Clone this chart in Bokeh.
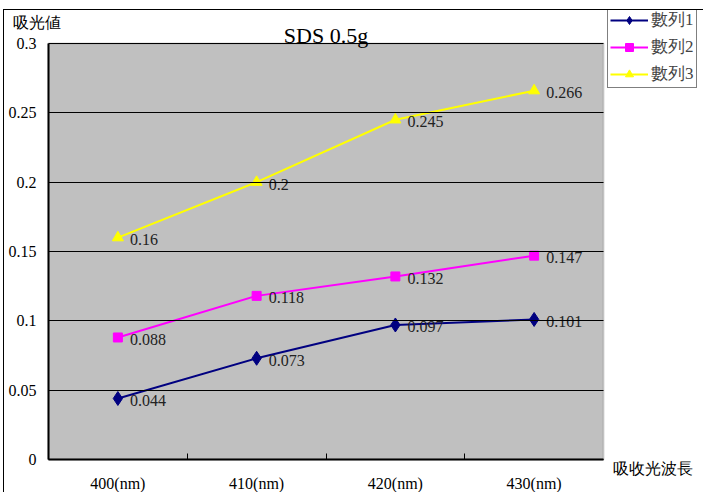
import numpy as np
from bokeh.plotting import figure
from bokeh.models import (Range1d, FixedTicker, Legend, LegendItem, Label, BoxAnnotation)
from bokeh.core.properties import value
from bokeh.embed import file_html
from bokeh.resources import INLINE

categories = ["400(nm)", "410(nm)", "420(nm)", "430(nm)"]
series_names = ["數列1", "數列2", "數列3"]
s1 = [0.044, 0.073, 0.097, 0.101]
s2 = [0.088, 0.118, 0.132, 0.147]
s3 = [0.16, 0.2, 0.245, 0.266]
y_ticks = [0, 0.05, 0.1, 0.15, 0.2, 0.25, 0.3]
y_tick_labels = ["0", "0.05", "0.1", "0.15", "0.2", "0.25", "0.3"]
title_text = "SDS 0.5g"
y_title = "吸光値"
x_title = "吸收光波長"

SERIF = "Liberation Serif"

# layout geometry (pixels inside the figure canvas)
W, H = 700, 483
PL, PR, PT, PB = 44, 599, 33, 449   # plot-area edges

n = len(categories)
ymax = y_ticks[-1]
xc = list(np.arange(n) + 0.5)
bounds = list(np.arange(1, n))

xs = (PR - PL) / n          # px per category
ys = (PB - PT) / ymax       # px per unit
x_range = Range1d(-PL / xs, n + (W - PR) / xs)
y_range = Range1d(-(H - PB) / ys, ymax + PT / ys)

p = figure(width=W, height=H, output_backend="svg", toolbar_location=None,
           x_range=x_range, y_range=y_range, min_border=0)
p.styles = {"margin-left": "3px", "margin-top": "9px",
            "border-left": "1px solid black", "border-top": "1px solid black"}
p.background_fill_color = "white"
p.border_fill_color = "white"
p.outline_line_color = None
p.xgrid.grid_line_color = None
p.ygrid.grid_line_color = None

# gray plot area
p.add_layout(BoxAnnotation(left=0, right=n, bottom=0, top=ymax,
                           fill_color="#C0C0C0", fill_alpha=1.0,
                           line_color="#808080", line_width=2, level="image",
                           editable=False))

# x axis
xa = p.xaxis[0]
xa.fixed_location = 0
xa.bounds = (0, n)
xa.ticker = FixedTicker(ticks=xc, minor_ticks=bounds)
xa.major_label_overrides = {float(x): c for x, c in zip(xc, categories)}
xa.major_tick_in = 0
xa.major_tick_out = 0
xa.minor_tick_in = 6
xa.minor_tick_out = 0
xa.minor_tick_line_color = "black"
xa.axis_line_color = "black"
xa.axis_line_width = 2
xa.major_label_text_font = SERIF
xa.major_label_text_font_size = "16px"
xa.major_label_text_color = "black"
xa.major_label_standoff = 15

# y axis; its inward ticks span the plot area as gridlines
ya = p.yaxis[0]
ya.fixed_location = 0
ya.bounds = (0, ymax)
ya.ticker = FixedTicker(ticks=y_ticks)
ya.major_label_overrides = {float(t): l for t, l in zip(y_ticks, y_tick_labels)}
ya.major_tick_in = PR - PL
ya.major_tick_out = 0
ya.major_tick_line_color = "black"
ya.major_tick_line_width = 1
ya.minor_tick_in = 0
ya.minor_tick_out = 0
ya.axis_line_color = "black"
ya.axis_line_width = 2
ya.major_label_text_font = SERIF
ya.major_label_text_font_size = "16px"
ya.major_label_text_color = "black"
ya.major_label_standoff = 12

colors = ["#000080", "#FF00FF", "#FFFF00"]
markers = ["diamond", "square", "triangle"]
sizes = [14, 9, 11]
items = []
for name, vals, col, mk, sz in zip(series_names, [s1, s2, s3], colors, markers, sizes):
    r1 = p.line(xc, vals, line_color=col, line_width=2)
    r2 = p.scatter(xc, vals, marker=mk, size=sz, fill_color=col, line_color=col)
    p.text(xc, vals, text=[str(v) for v in vals], x_offset=12, y_offset=2,
           text_baseline="middle", text_align="left", text_font=value(SERIF),
           text_font_size="16px", text_color="#222222")
    items.append(LegendItem(label=name, renderers=[r1, r2]))

legend = Legend(items=items, location=(603, 405), margin=0, padding=2, spacing=4,
                glyph_width=38, glyph_height=20, label_height=20, label_standoff=3,
                label_text_font=SERIF, label_text_font_size="17px",
                border_line_color="black", border_line_width=1,
                background_fill_color="white", background_fill_alpha=1.0)
p.add_layout(legend, "center")

p.add_layout(Label(x=n / 2, y=ymax, y_offset=8, text=title_text, text_align="center",
                   text_baseline="alphabetic", text_font=SERIF,
                   text_font_size="22px", text_color="black"))
p.add_layout(Label(x=8, y=471, x_units="screen", y_units="screen", text=y_title,
                   text_baseline="middle", text_align="left", text_font=SERIF,
                   text_font_size="16px", text_color="black"))
p.add_layout(Label(x=608, y=25, x_units="screen", y_units="screen", text=x_title,
                   text_baseline="middle", text_align="left", text_font=SERIF,
                   text_font_size="16px", text_color="black"))

open("out.html", "w").write(file_html(p, INLINE))
